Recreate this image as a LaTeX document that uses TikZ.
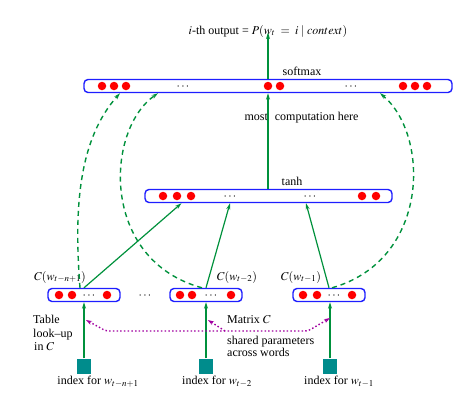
\documentclass[tikz,border=0pt]{standalone}
\usepackage{mathptmx}
\usepackage{fontspec}
\setmainfont{Liberation Serif}
\usetikzlibrary{arrows.meta}
\definecolor{lgreen}{RGB}{0,145,60}
\definecolor{lblue}{RGB}{30,30,255}
\definecolor{lred}{RGB}{255,0,0}
\definecolor{lteal}{RGB}{0,140,140}
\definecolor{lmag}{RGB}{160,0,160}
\begin{document}
\begin{tikzpicture}[x=1pt,y=-1pt,
  every node/.style={font=\fontsize{12}{13.5}\selectfont},
  layer/.style={draw=lblue, line width=1.4pt, rounded corners=4pt, inner sep=0pt, minimum height=13pt},
  unit/.style={circle, fill=lred, inner sep=0pt, minimum size=8.5pt},
  dotsnode/.style={anchor=base, inner sep=0pt},
  idx/.style={fill=lteal, inner sep=0pt, minimum width=14pt, minimum height=15pt},
  flow/.style={draw=lgreen, line width=1.2pt, -{Stealth[length=6.5pt,width=4pt]}},
  share/.style={draw=lgreen, line width=1.4pt, dash pattern=on 5pt off 4pt, -{Stealth[length=6.5pt,width=4pt]}},
  tie/.style={draw=lmag, line width=1.4pt, dash pattern=on 1.5pt off 2.2pt, rounded corners=3pt, -{Stealth[length=6pt,width=4pt]}}
]
\useasboundingbox (0,0) rectangle (473,405);

% title
\node (title) at (268,31) {$i$-th output = $P(w_t\;=\;i\;|\;context)$};

% layers
\node[layer, minimum width=368pt] (soft) at (268,86) {};
\node[layer, minimum width=247pt] (tanh) at (268.5,196) {};
\node[layer, minimum width=72pt] (b1) at (84,295) {};
\node[layer, minimum width=72pt] (b2) at (206,295) {};
\node[layer, minimum width=72pt] (b3) at (329,295) {};

% units
\foreach \x [count=\k] in {102,114,126,268,280,403,415,427}
  \node[unit] (su\k) at (\x,86) {};
\node[dotsnode] (sd1) at (183,89) {$\cdots$};
\node[dotsnode] (sd2) at (351,89) {$\cdots$};
\foreach \x [count=\k] in {163,177,191,362,376}
  \node[unit] (tu\k) at (\x,196) {};
\node[dotsnode] (td1) at (230,199) {$\cdots$};
\node[dotsnode] (td2) at (310,199) {$\cdots$};
\foreach \x [count=\k] in {59,72,107,180,192,231,303,317,352}
  \node[unit] (bu\k) at (\x,295) {};
\node[dotsnode] (bd1) at (89,298) {$\cdots$};
\node[dotsnode] (bd2) at (211,298) {$\cdots$};
\node[dotsnode] (bd3) at (334,298) {$\cdots$};
\node[dotsnode] (gap) at (145,298) {$\cdots$};

% labels
\node (lsoft) at (302,71) {softmax};
\node[anchor=west] (lmost) at (241,118) {most\hspace{4pt} computation here};
\node (ltanh) at (292,181) {tanh};
\node (c1) at (60,277) {$C(w_{t-n+1})$};
\node (c2) at (237,277) {$C(w_{t-2})$};
\node (c3) at (301,277) {$C(w_{t-1})$};
\node[anchor=north west, align=left, inner sep=0pt] (ltable) at (33,315) {Table\\ look--up\\ \hspace*{1pt}in $C$};
\node[anchor=west, inner sep=0pt] (lmatrix) at (227,320) {Matrix $C$};
\node[anchor=north west, align=left, inner sep=0pt, font=\fontsize{12}{12}\selectfont] (lshared) at (227,336) {shared parameters\\ across words};

% index squares
\node[idx] (i1) at (84,366) {};
\node[idx] (i2) at (206,366) {};
\node[idx] (i3) at (330,366) {};
\node (x1) at (98,382) {index for $w_{t-n+1}$};
\node (x2) at (217,382) {index for $w_{t-2}$};
\node (x3) at (339,382) {index for $w_{t-1}$};

% connectors
\draw[flow] (soft.north) -- ([yshift=8pt]title.south);
\draw[flow] (tanh.north -| soft.north) -- (soft.south);
\draw[flow] (b1.north) -- ([xshift=-87pt]tanh.south);
\draw[flow] (b2.north) -- ([xshift=-38.5pt]tanh.south);
\draw[flow] ([xshift=0pt]b3.north) -- ([xshift=37.5pt]tanh.south);
\draw[flow] (i1.north) -- (i1 |- b1.south);
\draw[flow] (i2.north) -- (i2 |- b2.south);
\draw[flow] (i3.north) -- (i3 |- b3.south);

\draw[share] ([xshift=-4pt]b1.north) .. controls (74,210) and (78,140) .. ([xshift=-148pt]soft.south);
\draw[share] ([xshift=-4pt]b2.north) .. controls (100,260) and (105,130) .. ([xshift=-110pt]soft.south);
\draw[share] ([xshift=3pt]b3.north) .. controls (430,260) and (430,135) .. ([xshift=112pt]soft.south);

% shared parameter ties
\coordinate (m1) at (86,320);
\coordinate (m2) at (208,320);
\coordinate (m3) at (330,318);
\coordinate (mj) at (225,331);
\draw[tie, {Stealth[length=6pt,width=4pt]}-{Stealth[length=6pt,width=4pt]}] (m1) -- (106,331) -- (308,331) -- (m3);
\draw[tie] (mj) -- (m2);
\end{tikzpicture}
\end{document}
